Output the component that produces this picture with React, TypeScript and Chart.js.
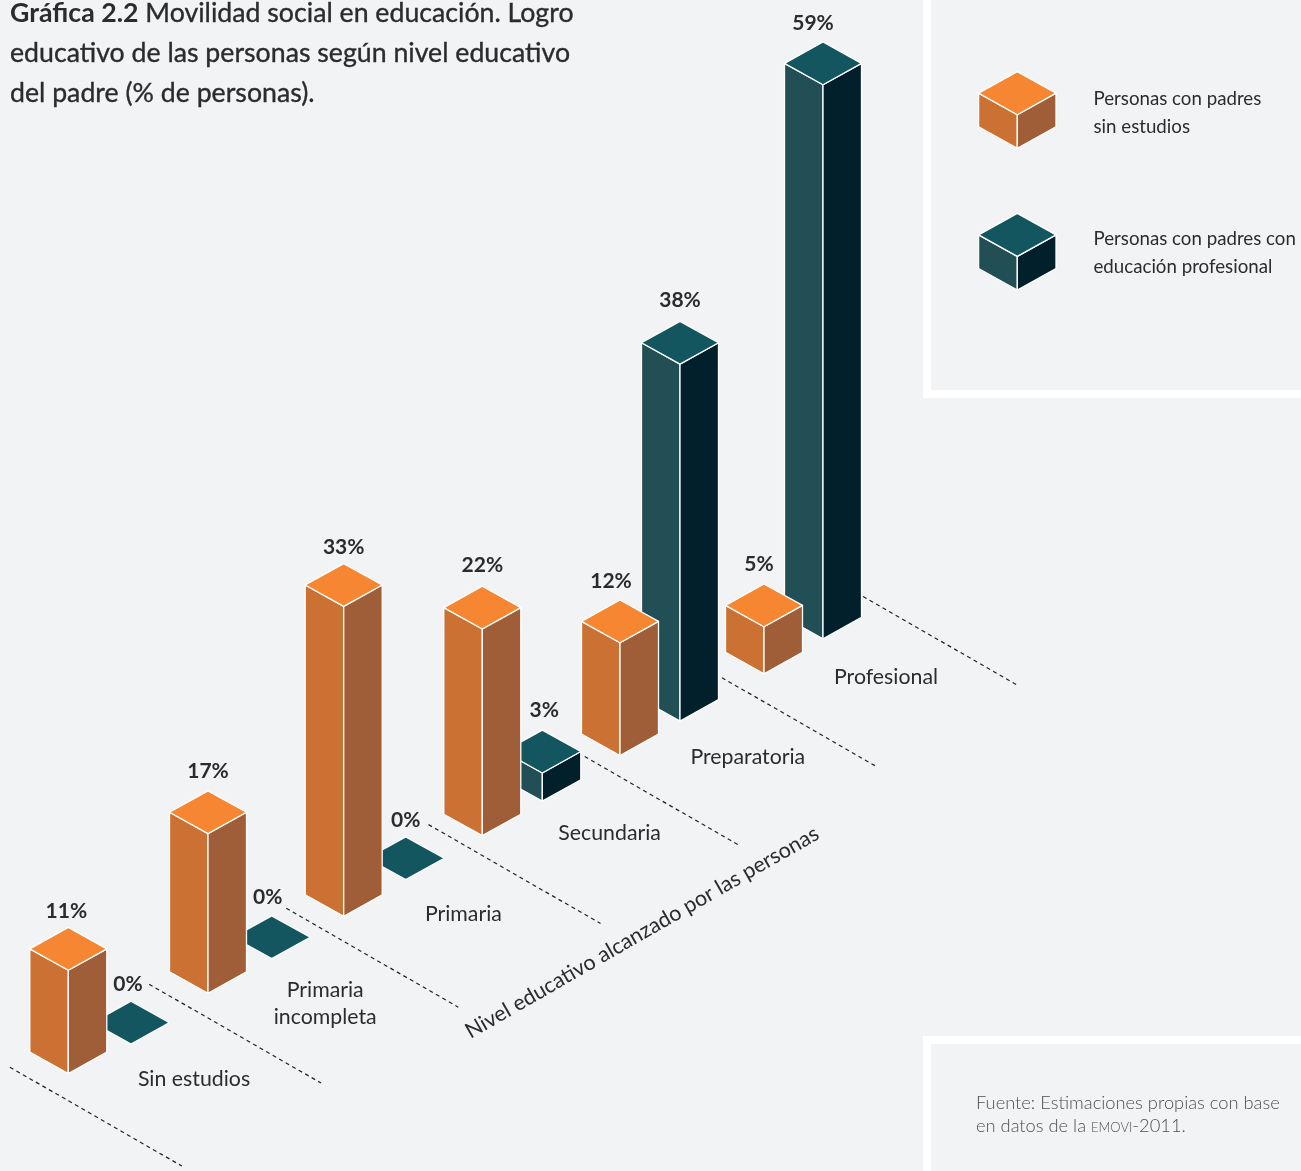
import React, { useEffect, useRef } from "react";
import { Chart, registerables } from "chart.js";

Chart.register(...registerables);

// ---- data ----
const categories: (string | string[])[] = [
  "Sin estudios",
  ["Primaria", "incompleta"],
  "Primaria",
  "Secundaria",
  "Preparatoria",
  "Profesional",
];
const parentsNoSchooling = [11, 17, 33, 22, 12, 5];
const parentsProfessional = [0, 0, 0, 3, 38, 59];
const seriesNames = [
  ["Personas con padres", "sin estudios"],
  ["Personas con padres con", "educación profesional"],
];
const axisTitle = "Nivel educativo alcanzado por las personas";

// ---- styling ----
const BG = "#f2f3f5";
const TEXT = "#2c2b2d";
const FONT = "Lato, 'Open Sans', sans-serif";
const ORANGE = { top: "#f68631", left: "#cc7134", right: "#9f5e38" };
const TEAL = { top: "#135660", left: "#224e55", right: "#01202b" };
const FACES = [ORANGE, TEAL];
const PX_PER_UNIT = 9.39;
const CANVAS_W = 1301;
const CANVAS_H = 1171;

// The isometric floor: bars stand on a sloped line; the scales give the rest.
const FLOOR = { anchorX: 68, anchorY: 1073.7, slope: 0.5747, diamond: 21.4 / 38.5 };
// The original was laid out by hand, so marks drift slightly off the regular grid.
const DRIFT_X = [
  [0.3, 0.8, -2.7, -3.3, -4.8, 0],
  [3, 4.5, -0.7, -3.3, -4.8, -1],
];
const DRIFT_Y = [
  [0, 0, 1, 0, -1, 0],
  [6.5, 2, 0, 0, -1, -1],
];
const VALUE_LABEL_DX = [
  [-2, 0, 0, 0, -9, -5],
  [-3, -4, 0, 2, 0, -10],
];
const VALUE_LABEL_DY = [
  [3, 0, 3, -1, 1, 0],
  [3, 1, 3, 0, -2, 1],
];
const CAT_LABEL_DX = [4, -4, -5, 2, 1, 0];
const CAT_LABEL_DY = [6.4, 6, -4, -0.5, 3, 2];
const GUIDE_RUN = [172, 172, 172, 172, 154, 154, 154];
const GUIDE_DX = [0, 0, -2, 1, 0, -2, 0];
const GUIDE_DY = [0, -3, 0, -2, -1, -1, -1];

function prism(
  ctx: CanvasRenderingContext2D,
  cx: number,
  baseY: number,
  h: number,
  hw: number,
  faces: { top: string; left: string; right: string }
) {
  const hh = hw * FLOOR.diamond;
  const topY = baseY - h;
  const poly = (pts: number[][], fill: string) => {
    ctx.beginPath();
    pts.forEach(([x, y], i) => (i ? ctx.lineTo(x, y) : ctx.moveTo(x, y)));
    ctx.closePath();
    ctx.fillStyle = fill;
    ctx.fill();
    ctx.stroke();
  };
  ctx.save();
  ctx.strokeStyle = "#ffffff";
  ctx.lineWidth = 1.3;
  ctx.lineJoin = "round";
  if (h > 0) {
    poly([[cx - hw, topY - hh], [cx, topY], [cx, baseY], [cx - hw, baseY - hh]], faces.left);
    poly([[cx + hw, topY - hh], [cx, topY], [cx, baseY], [cx + hw, baseY - hh]], faces.right);
  }
  poly([[cx, topY - 2 * hh], [cx + hw, topY - hh], [cx, topY], [cx - hw, topY - hh]], faces.top);
  ctx.restore();
}

const floorY = (x: number) => FLOOR.anchorY - FLOOR.slope * (x - FLOOR.anchorX);

const isoPlugin = {
  id: "isoPrisms",
  beforeDatasetsDraw(chart: any) {
    const ctx: CanvasRenderingContext2D = chart.ctx;
    const xs = chart.scales.x;
    const metas = [chart.getDatasetMeta(0), chart.getDatasetMeta(1)];
    const n = categories.length;
    const step = (xs.right - xs.left) / n;

    // dashed depth guides between categories
    ctx.save();
    ctx.strokeStyle = "#222222";
    ctx.lineWidth = 1.2;
    ctx.setLineDash([4, 3.5]);
    GUIDE_RUN.forEach((run, k) => {
      const endX = xs.left + k * step + 153.5 + GUIDE_DX[k];
      const endY = floorY(endX) + 157.8 + GUIDE_DY[k];
      ctx.beginPath();
      ctx.moveTo(endX - run, endY - run * FLOOR.slope);
      ctx.lineTo(endX, endY);
      ctx.stroke();
    });
    ctx.restore();

    const place = (s: number, i: number) => {
      const el = metas[s].data[i];
      const x = el.x + DRIFT_X[s][i];
      const base = floorY(x) + DRIFT_Y[s][i];
      const h = el.base - el.y;
      return { x, base, h, hw: el.width / 2 };
    };

    // far categories first, the back series before the front one
    for (let i = n - 1; i >= 0; i--) {
      for (const s of [1, 0]) {
        const p = place(s, i);
        prism(ctx, p.x, p.base, p.h, p.hw, FACES[s]);
      }
    }

    // value labels
    ctx.save();
    ctx.fillStyle = TEXT;
    ctx.textAlign = "center";
    ctx.textBaseline = "middle";
    ctx.font = `700 21px ${FONT}`;
    for (let s = 0; s < 2; s++) {
      chart.data.datasets[s].data.forEach((v: number, i: number) => {
        const p = place(s, i);
        const top = p.base - p.h - 2 * p.hw * FLOOR.diamond;
        ctx.fillText(`${v}%`, p.x + VALUE_LABEL_DX[s][i], top - 19.5 + VALUE_LABEL_DY[s][i]);
      });
    }
    // category labels
    ctx.font = `400 21.3px ${FONT}`;
    categories.forEach((label, i) => {
      const lx = xs.getPixelForValue(i) + 92 + CAT_LABEL_DX[i];
      const ly = floorY(lx) + 71.3 + CAT_LABEL_DY[i];
      const lines = Array.isArray(label) ? label : [label];
      lines.forEach((t, j) => ctx.fillText(t, lx, ly + (j - (lines.length - 1) / 2) * 27));
    });
    // axis title along the floor
    ctx.save();
    ctx.translate(642, 932.5);
    ctx.rotate(-Math.atan(FLOOR.slope));
    ctx.font = `400 21.5px ${FONT}`;
    ctx.fillText(axisTitle, 0, 0);
    ctx.restore();
    ctx.restore();

    // legend
    ctx.save();
    ctx.fillStyle = TEXT;
    ctx.textAlign = "left";
    ctx.textBaseline = "middle";
    ctx.font = `400 18.7px ${FONT}`;
    seriesNames.forEach((lines, s) => {
      prism(ctx, 1017.3, 148.3 + s * 141.7, 33.6, 38.7, FACES[s]);
      lines.forEach((t, j) => ctx.fillText(t, 1093.5, 99 + s * 140 + j * 28));
    });
    ctx.restore();
    return false;
  },
};

export default function App() {
  const ref = useRef<HTMLCanvasElement>(null);
  useEffect(() => {
    document.body.style.margin = "0";
    document.body.style.background = BG;
    const chart = new Chart(ref.current as HTMLCanvasElement, {
      type: "bar",
      data: {
        labels: categories as any,
        datasets: [
          { label: seriesNames[0].join(" "), data: parentsNoSchooling, backgroundColor: ORANGE.top },
          { label: seriesNames[1].join(" "), data: parentsProfessional, backgroundColor: TEAL.top },
        ],
      },
      options: {
        responsive: false,
        animation: false,
        devicePixelRatio: 1,
        // category width 139.2 px; bars 77 px wide with centres 60 px apart
        categoryPercentage: 60 / 69.6,
        barPercentage: 77 / 60,
        layout: { padding: { left: 28.4, right: 437.4, top: 0, bottom: 0 } },
        scales: {
          x: { type: "category", display: false },
          y: { type: "linear", display: false, min: 0, max: CANVAS_H / PX_PER_UNIT },
        },
        plugins: { legend: { display: false }, tooltip: { enabled: false } },
      } as any,
      plugins: [isoPlugin as any],
    });
    return () => chart.destroy();
  }, []);

  return (
    <div
      style={{
        position: "absolute",
        left: 0,
        top: 0,
        width: CANVAS_W,
        height: CANVAS_H,
        overflow: "hidden",
        background: BG,
        fontFamily: FONT,
        color: TEXT,
      }}
    >
      <div
        style={{
          position: "absolute",
          left: 923,
          top: -8,
          width: 400,
          height: 398,
          borderLeft: "8px solid #fff",
          borderBottom: "8px solid #fff",
        }}
      />
      <div
        style={{
          position: "absolute",
          left: 923,
          top: 1036,
          width: 400,
          height: 160,
          borderLeft: "8px solid #fff",
          borderTop: "8px solid #fff",
        }}
      />
      <canvas
        ref={ref}
        width={CANVAS_W}
        height={CANVAS_H}
        style={{ position: "absolute", left: 0, top: 0 }}
      />
      <div
        style={{
          position: "absolute",
          left: 10,
          top: -7,
          fontSize: 26.7,
          lineHeight: "39.8px",
          fontWeight: 400,
          WebkitTextStroke: "0.35px " + TEXT,
          whiteSpace: "nowrap",
        }}
      >
        <span style={{ fontWeight: 700, WebkitTextStroke: "0" }}>Gráfica 2.2</span> Movilidad social en educación. Logro
        <br />
        educativo de las personas según nivel educativo
        <br />
        del padre (% de personas).
      </div>
      <div
        style={{
          position: "absolute",
          left: 976,
          top: 1090.5,
          fontSize: 18.3,
          lineHeight: "23px",
          fontWeight: 300,
          color: "#4f4f4f",
          whiteSpace: "nowrap",
        }}
      >
        Fuente: Estimaciones propias con base
        <br />
        en datos de la <span style={{ fontVariant: "small-caps" }}>emovi</span>-2011.
      </div>
    </div>
  );
}
